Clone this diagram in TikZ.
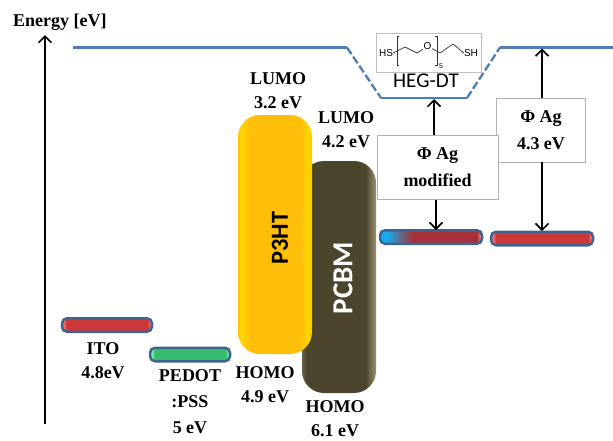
\documentclass[tikz,border=0pt]{standalone}
\usepackage{fontspec}
\setmainfont{Liberation Serif}
\newfontfamily\labelsans{Carlito}
\newfontfamily\chemsans{Liberation Sans}
\usepackage{tikz}
\usetikzlibrary{positioning}
\usetikzlibrary{arrows.meta}

\definecolor{levelblue}{HTML}{4F7CB5}
\definecolor{barborder}{HTML}{3D6491}
\definecolor{p3htmid}{HTML}{FFBE0A}
\definecolor{p3htband}{HTML}{FFD800}
\definecolor{p3htrim}{HTML}{FFC000}
\definecolor{pcbmmid}{HTML}{4A452C}
\definecolor{pcbmrim}{HTML}{8E8968}
\definecolor{barred}{HTML}{CC3838}
\definecolor{bartip}{HTML}{F07078}
\definecolor{bargreen}{HTML}{35BC6E}
\definecolor{greentip}{HTML}{80F0B0}
\definecolor{modred}{HTML}{A83038}
\definecolor{modblue}{HTML}{10B0F0}
\pgfdeclarehorizontalshading{p3htshade}{100bp}{color(0bp)=(p3htrim); color(25bp)=(p3htrim); color(27bp)=(p3htband); color(33bp)=(p3htmid); color(67bp)=(p3htmid); color(73bp)=(p3htband); color(75bp)=(p3htrim); color(100bp)=(p3htrim)}
\pgfdeclarehorizontalshading{pcbmshade}{100bp}{color(0bp)=(pcbmmid); color(25bp)=(pcbmmid!85!white); color(28bp)=(pcbmmid); color(68bp)=(pcbmmid); color(74bp)=(pcbmrim); color(100bp)=(pcbmrim)}
\pgfdeclarehorizontalshading{redshade}{100bp}{color(0bp)=(bartip); color(26bp)=(bartip); color(27.5bp)=(barred); color(72.5bp)=(barred); color(74bp)=(bartip); color(100bp)=(bartip)}
\pgfdeclarehorizontalshading{greenshade}{100bp}{color(0bp)=(greentip); color(26bp)=(greentip); color(28bp)=(bargreen); color(72bp)=(bargreen); color(74bp)=(greentip); color(100bp)=(greentip)}
\pgfdeclarehorizontalshading{modshade}{100bp}{color(0bp)=(modblue); color(28bp)=(modblue); color(41bp)=(modred); color(72.5bp)=(modred); color(74bp)=(bartip); color(100bp)=(bartip)}

\begin{document}
\begin{tikzpicture}[
                          x=1pt, y=-1pt,
                          >={Straight Barb[length=6.5pt,width=13pt]},
                          labelnode/.style={font=\fontsize{18}{24}\selectfont\bfseries, align=center, inner sep=0pt},
                          barnode/.style={rectangle, rounded corners=5pt, draw=barborder, line width=2.5pt, minimum height=13.5pt, inner sep=0pt},
                          blocknode/.style={rectangle, rounded corners=22pt, minimum width=74pt, inner sep=0pt},
                          boxnode/.style={rectangle, draw=black!30, fill=white, line width=0.6pt, font=\fontsize{18}{27}\selectfont\bfseries, align=center, inner sep=0pt},
                          arrowline/.style={->, line width=1.6pt},
                          levelline/.style={levelblue, line width=2.3pt},
                          chemline/.style={line width=0.7pt, black!80},
                      ]
                      \useasboundingbox (0,0) rectangle (613,440);
                      % Nodes
                      \node[labelnode, anchor=west] (energy) at (13,22) {Energy [eV]};
                      \coordinate (axis_start) at (45,424);
                      \coordinate (axis_end) at (45,35);

                      \coordinate (vac_a) at (73,47.5);
                      \coordinate (vac_b) at (347,47.5);
                      \coordinate (vac_c) at (381,98);
                      \coordinate (vac_d) at (467,98);
                      \coordinate (vac_e) at (500,47.5);
                      \coordinate (vac_f) at (613,47.5);

                      \node[blocknode, shade, shading=pcbmshade, minimum height=232pt] (pcbm) at (339,277) {};
                      \node[blocknode, shade, shading=p3htshade, minimum height=239pt] (p3ht) at (275,234.5) {};
                      \node[font=\labelsans\fontsize{24.5}{25}\selectfont\bfseries, rotate=90] (p3ht_text) at (280,238) {P3HT};
                      \node[font=\labelsans\fontsize{29}{29}\selectfont\bfseries, text=white, rotate=90] (pcbm_text) at (343,278) {PCBM};

                      \node[barnode, shade, shading=redshade, minimum width=90pt] (ito) at (107,325) {};
                      \node[barnode, shade, shading=greenshade, minimum width=80pt] (pedot) at (190,354.5) {};
                      \node[barnode, shade, shading=modshade, minimum width=102pt] (ag_mod) at (431,237) {};
                      \node[barnode, shade, shading=redshade, minimum width=102pt] (ag) at (542,238.5) {};

                      \node[labelnode] (ito_label)   [below=9pt of ito, xshift=-4pt]   {ITO\\4.8eV};
                      \node[labelnode] (pedot_label) [below=7pt of pedot] {PEDOT\\[2pt]:PSS\\[2pt]5 eV};
                      \node[labelnode] (lumo_p3ht)   [above=6pt of p3ht, xshift=3pt]   {LUMO\\3.2 eV};
                      \node[labelnode] (lumo_pcbm)   [above=13pt of pcbm, xshift=7pt]   {LUMO\\4.2 eV};
                      \node[labelnode] (homo_p3ht)   [below=12pt of p3ht, xshift=-10pt]   {HOMO\\4.9 eV};
                      \node[labelnode] (homo_pcbm)   [below=7pt of pcbm, xshift=-4pt]   {HOMO\\6.1 eV};

                      \node[boxnode, minimum width=89pt, minimum height=64pt] (box_ag) at (541,130) {Φ Ag\\4.3 eV};
                      \node[boxnode, minimum width=121pt, minimum height=64pt] (box_mod) at (437.5,167) {Φ Ag\\modified};

                      \node[draw=black!25, line width=0.6pt, minimum width=105pt, minimum height=39pt, inner sep=0pt] (mol_box) at (428.5,52.5) {};
                      \node[font=\labelsans\fontsize{21}{21}\selectfont, inner sep=0pt] (mol_name) at (426,81) {HEG-DT};
                      \node[font=\chemsans\fontsize{10}{10}\selectfont, inner sep=0pt] (hs) at (386,53) {HS};
                      \node[font=\chemsans\fontsize{10}{10}\selectfont, inner sep=0.5pt] (oxy) at (427.5,46) {O};
                      \node[font=\chemsans\fontsize{10}{10}\selectfont, inner sep=0pt] (sh) at (471,53) {SH};
                      \node[font=\chemsans\fontsize{7}{7}\selectfont, inner sep=0pt] (five) at (441,66) {5};
                      \coordinate (bond_a) at (405,47);
                      \coordinate (bond_b) at (417,53);
                      \coordinate (bond_c) at (440,53);
                      \coordinate (bond_d) at (453,44);
                      \coordinate (mod_up_start) at (434,135);
                      \coordinate (mod_up_end) at (434,99);
                      \coordinate (mod_down_start) at (436,199.5);
                      \coordinate (mod_down_end) at (436,230);
                      \coordinate (ag_up_start) at (542,98);
                      \coordinate (ag_up_end) at (542,48.5);
                      \coordinate (ag_down_start) at (542,162);
                      \coordinate (ag_down_end) at (542,231);

                      %Lines
                      \draw[arrowline] (axis_start) -- (axis_end);

                      \draw[levelline] (vac_a) -- (vac_b);
                      \draw[levelline, dash pattern=on 8pt off 3pt] (vac_b) -- (vac_c);
                      \draw[levelline] (vac_c) -- (vac_d);
                      \draw[levelline, dash pattern=on 8pt off 3pt] (vac_d) -- (vac_e);
                      \draw[levelline] (vac_e) -- (vac_f);

                      \draw[arrowline] (mod_up_start) -- (mod_up_end);
                      \draw[arrowline] (mod_down_start) -- (mod_down_end);
                      \draw[arrowline] (ag_up_start) -- (ag_up_end);
                      \draw[arrowline] (ag_down_start) -- (ag_down_end);

                      \draw[chemline] (hs.east) -- (bond_a) -- (bond_b) -- (oxy);
                      \draw[chemline] (oxy) -- (bond_c) -- (bond_d) -- (sh.west);
                      \draw[chemline] (399,36) -- (397,36) -- (397,65) -- (399,65);
                      \draw[chemline] (435,36) -- (437,36) -- (437,65) -- (435,65);
                  \end{tikzpicture}
\end{document}
